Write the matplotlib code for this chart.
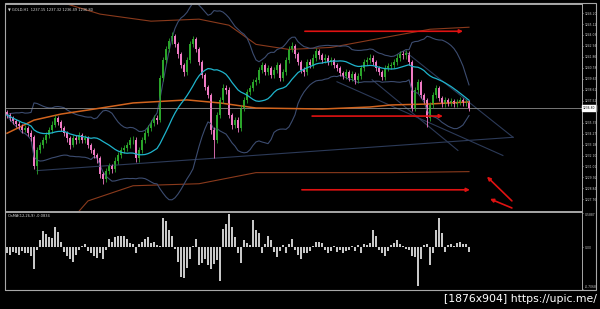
import numpy as np
import pandas as pd
import matplotlib
matplotlib.use("Agg")
import matplotlib.pyplot as plt
from matplotlib.patches import Rectangle

# GOLD H1 candles (open = previous close)
first_open = 1236.4
closes = [1236.1, 1235.8, 1235.5, 1235.2, 1235.0, 1234.6, 1234.8, 1234.3, 1233.9, 1231.1,
          1232.6, 1233.1, 1233.6, 1234.1, 1234.6, 1235.1, 1235.8, 1235.4, 1234.8, 1234.3,
          1233.8, 1233.1, 1233.8, 1233.6, 1234.1, 1233.6, 1233.8, 1233.1, 1232.6, 1232.1,
          1231.8, 1230.3, 1229.8, 1230.6, 1231.1, 1230.8, 1231.6, 1232.1, 1232.6, 1232.8,
          1233.1, 1233.6, 1233.6, 1231.8, 1232.6, 1233.6, 1234.3, 1234.8, 1235.3, 1235.8,
          1235.6, 1239.8, 1241.6, 1242.6, 1243.4, 1243.9, 1243.1, 1242.1, 1241.1, 1240.4,
          1241.6, 1243.1, 1243.6, 1242.6, 1241.4, 1240.1, 1238.9, 1238.1, 1234.6, 1233.6,
          1236.1, 1237.6, 1238.8, 1238.6, 1236.1, 1235.1, 1235.6, 1234.8, 1236.8, 1237.6,
          1238.4, 1238.8, 1239.4, 1239.6, 1240.6, 1241.1, 1240.4, 1240.8, 1240.1, 1240.6,
          1241.1, 1239.8, 1240.4, 1241.6, 1242.6, 1242.9, 1242.1, 1241.4, 1240.6, 1240.4,
          1241.4, 1241.1, 1241.8, 1242.4, 1242.0, 1241.6, 1241.8, 1241.4, 1241.6, 1241.1,
          1240.8, 1240.3, 1240.0, 1240.4, 1239.8, 1240.2, 1239.6, 1240.0, 1240.8, 1241.4,
          1241.6, 1241.8, 1241.4, 1240.8, 1240.4, 1239.9, 1240.8, 1241.0, 1241.1, 1241.4,
          1241.8, 1242.1, 1242.0, 1242.2, 1241.4, 1236.8, 1238.6, 1239.4, 1238.1, 1237.6,
          1235.8, 1237.1, 1238.1, 1238.8, 1237.8, 1237.2, 1237.6, 1237.3, 1237.5, 1237.2,
          1237.4, 1237.6, 1237.3, 1237.4, 1236.8]
highs = [1236.6, 1236.3, 1236.0, 1235.7, 1235.5, 1235.2, 1235.1, 1235.0, 1234.6, 1234.1,
         1232.9, 1233.4, 1233.9, 1234.4, 1234.9, 1235.5, 1236.1, 1236.0, 1235.6, 1235.0,
         1234.5, 1234.0, 1234.1, 1234.1, 1234.4, 1234.3, 1234.1, 1234.0, 1233.3, 1232.8,
         1232.3, 1232.0, 1230.5, 1230.9, 1231.4, 1231.3, 1231.9, 1232.4, 1232.9, 1233.1,
         1233.4, 1233.9, 1234.0, 1233.9, 1232.9, 1233.9, 1234.6, 1235.1, 1235.6, 1236.1,
         1236.1, 1240.1, 1241.9, 1242.9, 1243.7, 1244.3, 1244.1, 1243.3, 1242.3, 1241.3,
         1241.9, 1243.4, 1243.9, 1243.8, 1242.8, 1241.6, 1240.3, 1239.1, 1238.3, 1234.9,
         1236.4, 1237.9, 1239.2, 1239.1, 1238.9, 1236.3, 1235.9, 1235.9, 1237.1, 1237.9,
         1238.7, 1239.1, 1239.7, 1239.9, 1240.9, 1241.4, 1241.3, 1241.1, 1241.0, 1240.9,
         1241.4, 1241.3, 1240.7, 1241.9, 1242.9, 1243.3, 1243.1, 1242.3, 1241.6, 1240.9,
         1241.7, 1241.7, 1242.1, 1242.7, 1242.6, 1242.2, 1242.1, 1242.0, 1241.9, 1241.8,
         1241.3, 1241.0, 1240.5, 1240.7, 1240.6, 1240.5, 1240.4, 1240.3, 1241.1, 1241.7,
         1241.9, 1242.1, 1242.0, 1241.6, 1241.0, 1240.6, 1241.1, 1241.3, 1241.4, 1241.7,
         1242.1, 1242.4, 1242.4, 1242.5, 1242.4, 1241.6, 1238.9, 1239.7, 1239.6, 1238.3,
         1237.8, 1237.4, 1238.4, 1239.1, 1239.0, 1238.0, 1237.9, 1237.8, 1237.8, 1237.7,
         1237.7, 1237.9, 1237.8, 1237.7, 1237.6]
lows = [1235.8, 1235.5, 1235.2, 1234.9, 1234.7, 1234.3, 1234.4, 1234.0, 1233.5, 1230.8,
        1230.3, 1232.3, 1232.8, 1233.3, 1233.8, 1234.3, 1234.9, 1235.1, 1234.5, 1234.0,
        1233.4, 1232.7, 1232.9, 1233.2, 1233.3, 1233.3, 1233.3, 1232.8, 1232.3, 1231.8,
        1231.4, 1229.9, 1229.3, 1229.5, 1230.3, 1230.4, 1230.5, 1231.3, 1231.8, 1232.3,
        1232.5, 1232.8, 1233.2, 1231.5, 1231.5, 1232.3, 1233.3, 1234.0, 1234.5, 1235.0,
        1235.2, 1235.4, 1239.5, 1241.3, 1242.3, 1243.1, 1242.8, 1241.8, 1240.8, 1240.0,
        1240.1, 1241.3, 1242.8, 1242.3, 1241.1, 1239.8, 1238.6, 1237.8, 1234.2, 1231.8,
        1233.3, 1235.8, 1237.3, 1238.2, 1235.8, 1234.7, 1234.8, 1234.4, 1234.5, 1236.5,
        1237.3, 1238.1, 1238.5, 1239.1, 1239.3, 1240.3, 1240.1, 1240.1, 1239.8, 1239.8,
        1240.3, 1239.5, 1239.5, 1240.1, 1241.3, 1242.3, 1241.8, 1241.1, 1240.3, 1240.0,
        1240.1, 1240.8, 1240.8, 1241.5, 1241.7, 1241.3, 1241.3, 1241.1, 1241.1, 1240.8,
        1240.5, 1240.0, 1239.7, 1239.7, 1239.5, 1239.5, 1239.2, 1239.3, 1239.7, 1240.5,
        1241.1, 1241.3, 1241.1, 1240.5, 1240.1, 1239.6, 1239.6, 1240.5, 1240.7, 1240.8,
        1241.1, 1241.5, 1241.7, 1241.7, 1241.1, 1236.5, 1236.5, 1238.3, 1237.8, 1237.3,
        1234.9, 1235.5, 1236.8, 1237.8, 1237.5, 1236.9, 1236.9, 1237.0, 1237.0, 1236.9,
        1236.9, 1237.1, 1237.0, 1237.0, 1236.5]

# OsMA histogram, one bar per candle
osma = [-0.10, -0.12, -0.08, -0.10, -0.12, -0.06, -0.10, -0.09, -0.14, -0.36,
        -0.05, 0.12, 0.28, 0.22, 0.18, 0.16, 0.34, 0.26, 0.10, -0.08,
        -0.14, -0.20, -0.24, -0.12, -0.04, 0.02, 0.05, -0.06, -0.10, -0.14,
        -0.18, -0.10, -0.20, -0.04, 0.14, 0.10, 0.18, 0.20, 0.19, 0.20,
        0.14, 0.08, 0.05, -0.10, 0.06, 0.10, 0.14, 0.18, 0.08, 0.10,
        0.04, 0.02, 0.50, 0.44, 0.30, 0.20, -0.02, -0.24, -0.50, -0.52,
        -0.34, -0.20, 0.02, 0.14, -0.30, -0.26, -0.20, -0.30, -0.36, -0.28,
        -0.22, -0.56, 0.32, 0.40, 0.56, 0.34, 0.18, -0.10, -0.26, 0.12,
        0.08, 0.04, 0.46, 0.30, 0.24, -0.10, 0.06, 0.20, 0.12, -0.08,
        -0.16, -0.06, 0.04, -0.10, 0.06, 0.14, -0.04, -0.12, -0.20, -0.10,
        -0.10, -0.06, 0.02, 0.10, 0.10, 0.08, -0.04, -0.10, -0.06, 0.02,
        -0.08, -0.04, -0.10, -0.06, -0.04, 0.02, -0.06, 0.04, -0.10, 0.06,
        0.04, 0.08, 0.30, 0.20, -0.04, -0.10, -0.14, -0.06, 0.04, 0.08,
        0.12, 0.06, 0.03, -0.02, -0.04, -0.14, -0.16, -0.66, -0.20, 0.04,
        0.05, -0.30, -0.10, 0.30, 0.50, 0.24, -0.08, 0.04, 0.06, 0.03,
        0.08, 0.10, 0.05, 0.06, -0.08]

# slow MA and its envelope, read as (candle index, price)
slow_ma_idx = [0, 9, 18, 27, 42, 60, 71, 83, 105, 121, 128, 141, 154]
slow_ma = [1234.3, 1235.6, 1236.2, 1236.6, 1237.3, 1237.6, 1237.3, 1236.8, 1236.7, 1236.9, 1237.1, 1237.2, 1237.4]
env_up_idx = [16, 20, 31, 48, 64, 74, 83, 94, 108, 128, 141, 154]
env_up = [1247.8, 1247.1, 1246.1, 1245.4, 1245.6, 1245.0, 1243.1, 1242.6, 1242.8, 1243.9, 1244.6, 1244.8]
env_dn_idx = [22, 27, 42, 64, 83, 128, 154]
env_dn = [1225.9, 1227.6, 1229.1, 1229.3, 1230.4, 1230.4, 1230.5]

# hand drawn objects on the chart: ((idx, price), (idx, price))
trend_lines = [((10, 1230.6), (168.7, 1233.9)),
               ((132.7, 1242.4), (168.7, 1233.9)),
               ((110, 1239.4), (165.3, 1232.1)),
               ((121.7, 1239.6), (150.3, 1232.6))]
red_arrows = [((99.3, 1244.4), (152, 1244.4)),
              ((101.7, 1236.0), (145.3, 1236.0)),
              ((98.3, 1228.7), (154.3, 1228.7)),
              ((168.3, 1227.6), (160, 1230.0)),
              ((168.3, 1226.9), (161, 1227.8))]

last_price = 1236.80
title = "\u25bc GOLD,H1  1237.15 1237.32 1236.49 1236.80"
osma_title = "OsMA(12,26,9) -0.0834"
osma_ticks = [0.5887, 0.0, -0.7068]
osma_labels = ["0.5887", "0.00", "-0.7068"]

W, H = 600, 309
fig = plt.figure(figsize=(6, 3.09), dpi=100, facecolor="black")

def box(x0, y0, x1, y1):
    return [x0 / W, 1 - y1 / H, (x1 - x0) / W, (y1 - y0) / H]

ax = fig.add_axes(box(5, 4, 582, 211), facecolor="black")
ax2 = fig.add_axes(box(5, 212, 582, 290), facecolor="black", sharex=ax)

n = len(closes)
idx = np.arange(n)
opens = np.array([first_open] + closes[:-1])
c = np.array(closes)
up = c >= opens
col = np.where(up, "#2aa52a", "#f07ac4")

# bollinger bands 20,2 from the closes
s = pd.Series(closes)
mid = s.rolling(20, min_periods=1).mean()
sd = s.rolling(20, min_periods=1).std(ddof=0)

ax.plot(env_up_idx, env_up, color="#8a3a1c", lw=0.8)
ax.plot(env_dn_idx, env_dn, color="#8a3a1c", lw=0.8)
for (x0, y0), (x1, y1) in trend_lines:
    ax.plot([x0, x1], [y0, y1], color="#2c3a58", lw=0.8)
ax.plot(idx, mid + 2 * sd, color="#3c4c70", lw=0.8)
ax.plot(idx, mid - 2 * sd, color="#3c4c70", lw=0.8)
ax.axhline(last_price, color="#8a8a8a", lw=0.6)
ax.plot(slow_ma_idx, slow_ma, color="#d2641e", lw=1.1)

ax.vlines(idx, lows, highs, colors=col, lw=0.6)
ax.bar(idx, np.maximum(np.abs(c - opens), 0.06), bottom=np.minimum(c, opens),
       width=0.6, color=col, linewidth=0)
ax.plot(idx, mid, color="#1fb4cc", lw=0.9)

for (x0, y0), (x1, y1) in red_arrows:
    ax.annotate("", xy=(x1, y1), xytext=(x0, y0),
                arrowprops=dict(arrowstyle="-|>", color="#e01212", lw=1.2,
                                mutation_scale=5, shrinkA=0, shrinkB=0))

ax.set_xlim(-0.67, 191.67)
ax.set_ylim(1226.6, 1247.1)

# price scale on the right
ticks = [1246.20 - 1.085 * k for k in range(18)]
ticks = [t for t in ticks if abs(t - last_price) > 0.6]
ax.yaxis.tick_right()
ax.set_yticks(ticks)
ax.set_yticklabels([f"{t:.2f}" for t in ticks])
ax.tick_params(axis="y", colors="#c8c8c8", labelsize=2.2, length=1, width=0.5, pad=0.8)
ax.tick_params(axis="x", bottom=False, labelbottom=False)
ax.text(1.002, last_price, f"{last_price:.2f}", transform=ax.get_yaxis_transform(),
        fontsize=2.2, color="black", va="center", ha="left",
        bbox=dict(facecolor="white", edgecolor="white", pad=0.5))
ax.text(0.006, 0.985, title, transform=ax.transAxes, fontsize=2.6,
        color="#d8d8d8", va="top", ha="left")

ax2.bar(idx, osma, width=0.35, color="#c8c8c8", linewidth=0)
ax2.set_ylim(-0.72, 0.60)
ax2.yaxis.tick_right()
ax2.set_yticks(osma_ticks)
ax2.set_yticklabels(osma_labels)
ax2.tick_params(axis="y", colors="#c8c8c8", labelsize=2.2, length=1, width=0.5, pad=0.8)
ax2.tick_params(axis="x", bottom=False, labelbottom=False)
ax2.text(0.006, 0.97, osma_title, transform=ax2.transAxes, fontsize=2.6,
         color="#d8d8d8", va="top", ha="left")
ax2.get_yticklabels()[0].set_va("top")
ax2.get_yticklabels()[-1].set_va("bottom")

for a in (ax, ax2):
    for sp in a.spines.values():
        sp.set_color("#a8a8a8")
        sp.set_linewidth(0.7)
ax2.spines["bottom"].set_visible(False)

# window frame
fig.add_artist(Rectangle((5 / W, 1 - 290 / H), 591 / W, 287 / H, transform=fig.transFigure,
                         fill=False, edgecolor="#a8a8a8", lw=0.8))

fig.text(597 / W, 1 - 299 / H, "[1876x904] https://upic.me/", ha="right", va="center",
         color="white", fontsize=7.8)

fig.savefig("out.png", dpi=100, facecolor="black")
